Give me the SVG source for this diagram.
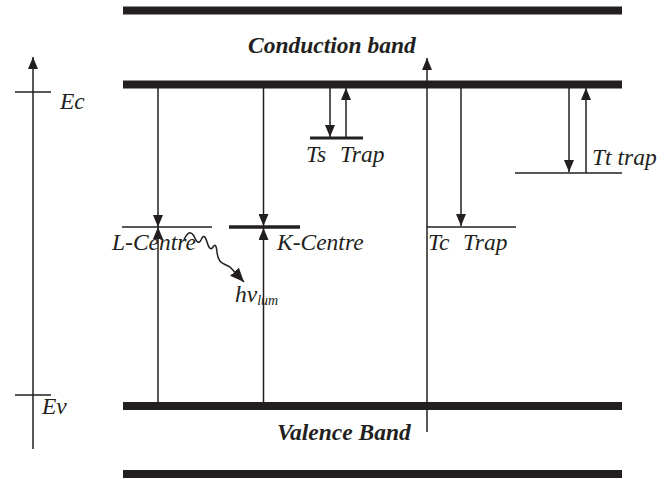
<svg xmlns="http://www.w3.org/2000/svg" width="665" height="479" viewBox="0 0 665 479">
<style>
.bar{stroke:#231f20;stroke-width:8;fill:none}
.ln{stroke:#231f20;stroke-width:1.5;fill:none}
.t{font-family:'Liberation Serif','Times New Roman',Times,serif;font-style:italic;font-size:23.5px;fill:#231f20}
.b{font-weight:bold}
</style>
<defs>
<marker id="ah" viewBox="0 0 12 10" refX="12" refY="5" markerWidth="12" markerHeight="10" markerUnits="userSpaceOnUse" orient="auto">
<path d="M0,0 L12,5 L0,10 Z" fill="#231f20"/>
</marker>
<marker id="ah2" viewBox="0 0 14 12" refX="14" refY="6" markerWidth="14" markerHeight="12" markerUnits="userSpaceOnUse" orient="auto">
<path d="M0,0 L14,6 L0,12 Z" fill="#231f20"/>
</marker>
</defs>
<rect width="665" height="479" fill="#fff"/>
<g id="bands">
<line class="bar" x1="123" y1="10.5" x2="622" y2="10.5"/>
<line class="bar" x1="123" y1="84.5" x2="622" y2="84.5"/>
<line class="bar" x1="123" y1="406" x2="622" y2="406"/>
<line class="bar" x1="123" y1="474" x2="622" y2="474"/>
</g>
<g id="axis">
<line class="ln" x1="33" y1="449" x2="33" y2="57" marker-end="url(#ah)"/>
<line class="ln" x1="15" y1="92" x2="51" y2="92"/>
<line class="ln" x1="15" y1="395" x2="51" y2="395"/>
<text class="t" x="60" y="109">Ec</text>
<text class="t" x="42" y="414">Ev</text>
</g>
<g id="labels">
<text class="t b" x="248" y="53">Conduction band</text>
<text class="t b" x="277" y="440">Valence Band</text>
</g>
<g id="l-centre">
<line class="ln" x1="122" y1="227" x2="212" y2="227"/>
<text class="t" x="112" y="250">L-Centre</text>
</g>
<g id="k-centre">
<line stroke="#231f20" stroke-width="3.5" x1="229" y1="227" x2="300" y2="227"/>
<text class="t" x="277" y="250">K-Centre</text>
</g>
<g id="ts-trap">
<line stroke="#231f20" stroke-width="3" x1="310" y1="138" x2="363" y2="138"/>
<text class="t" x="306" y="162">Ts</text>
<text class="t" x="340" y="162">Trap</text>
</g>
<g id="tc-trap">
<line class="ln" x1="427" y1="227" x2="516" y2="227"/>
<text class="t" x="428" y="250">Tc</text>
<text class="t" x="463" y="250">Trap</text>
</g>
<g id="tt-trap">
<line class="ln" x1="515" y1="173" x2="622" y2="173"/>
<text class="t" x="592" y="165">Tt trap</text>
</g>
<g id="photon">
<text class="t" x="235" y="302">hν<tspan font-size="14" dy="3">lum</tspan></text>
</g>
<g id="connectors">
<line class="ln" x1="158" y1="88" x2="158" y2="227" marker-end="url(#ah)"/>
<line class="ln" x1="158" y1="402" x2="158" y2="227" marker-end="url(#ah)"/>
<line class="ln" x1="263.5" y1="88" x2="263.5" y2="226" marker-end="url(#ah)"/>
<line class="ln" x1="263.5" y1="402" x2="263.5" y2="228" marker-end="url(#ah)"/>
<line class="ln" x1="330" y1="88" x2="330" y2="137" marker-end="url(#ah)"/>
<line class="ln" x1="346" y1="137" x2="346" y2="88" marker-end="url(#ah)"/>
<line class="ln" x1="427" y1="432" x2="427" y2="58" marker-end="url(#ah)"/>
<line class="ln" x1="461" y1="88" x2="461" y2="226" marker-end="url(#ah)"/>
<line class="ln" x1="569" y1="88" x2="569" y2="172" marker-end="url(#ah)"/>
<line class="ln" x1="586" y1="173" x2="586" y2="88" marker-end="url(#ah)"/>
<path class="ln" d="M184,240 Q189,228 194,236 Q198,246 201,240 Q204,232 207,242 Q210,252 213,247 Q216,242 217,252 Q218,262 224,264 L230,267" />
<line class="ln" x1="230" y1="267" x2="244" y2="282" marker-end="url(#ah2)"/>
</g>
</svg>
